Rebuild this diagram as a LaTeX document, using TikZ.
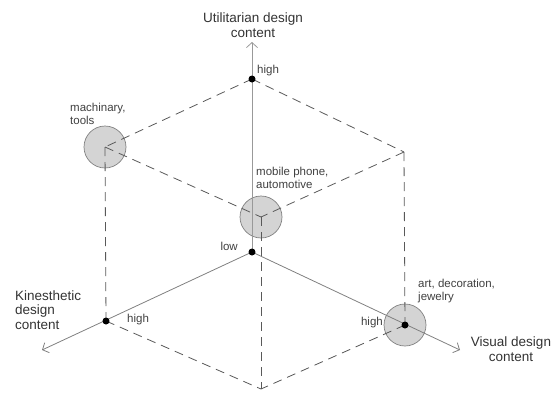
\documentclass[tikz,border=0pt]{standalone}
\usepackage{fontspec}
\setmainfont{Liberation Sans}
\usetikzlibrary{arrows.meta, backgrounds}

\begin{document}
\begin{tikzpicture}[x=1pt, y=-1pt, >={Straight Barb[length=5pt, width=11pt]},
  highdot/.style={circle, fill=black, inner sep=0pt, minimum size=7pt},
  itemcircle/.style={circle, draw=black!50, fill=black!17, line width=0.7pt, minimum size=42pt, inner sep=0pt},
  cubeedge/.style={draw=black!65, line width=0.8pt, dash pattern=on 9pt off 6pt},
  axisline/.style={->, draw=black!50, line width=0.8pt},
  lbl/.style={font=\fontsize{11.5}{12.5}\selectfont, text=black!75, align=left, inner sep=0pt},
  axistitle/.style={font=\fontsize{13.5}{14.5}\selectfont, text=black!80, align=center, inner sep=0pt}]
\useasboundingbox (0,0) rectangle (554,392);
% Dots on the axes
\node[highdot] (low) at (252,252) {};
\node[highdot] (uhigh) at (252,79) {};
\node[highdot] (khigh) at (106,321) {};
\node[highdot] (vhigh) at (405,325) {};
% Other cube corners and axis tips
\coordinate (uv) at (404,152);
\coordinate (kv) at (261,389);
\coordinate (utip) at (252,42);
\coordinate (ktip) at (42,350);
\coordinate (vtip) at (460,350);
\begin{scope}[on background layer]
% Item circles (cube corners)
\node[itemcircle] (machine) at (105,147) {};
\node[itemcircle] (phone) at (261,217) {};
\node[itemcircle] (art) at (vhigh) {};
% Dashed cube edges
\draw[cubeedge] (uhigh.center) -- (machine.center);
\draw[cubeedge] (uhigh.center) -- (uv);
\draw[cubeedge] (machine.center) -- (khigh.center);
\draw[cubeedge] (machine.center) -- (phone.center);
\draw[cubeedge] (uv) -- (phone.center);
\draw[cubeedge] (uv) -- (vhigh.center);
\draw[cubeedge] (phone.center) -- (kv);
\draw[cubeedge] (khigh.center) -- (kv);
\draw[cubeedge] (vhigh.center) -- (kv);
% Axes
\draw[axisline, draw=black!40] (low.center) -- (utip);
\draw[axisline] (low.center) -- (ktip);
\draw[axisline] (low.center) -- (vtip);
\end{scope}
% Labels
\node[axistitle] (ut) at (253,25) {Utilitarian design\\content};
\node[axistitle, align=left, anchor=west] (kt) at (15,310) {Kinesthetic\\design\\content};
\node[axistitle] (vt) at (511,349) {Visual design\\content};
\node[lbl, anchor=west] (uhl) at (257,71) {high};
\node[lbl, anchor=east] (lowl) at (238,246) {low};
\node[lbl, anchor=west] (khl) at (127,320) {high};
\node[lbl, anchor=east] (vhl) at (383,323) {high};
\node[lbl, anchor=west] (machl) at (70,114) {machinary,\\tools};
\node[lbl, anchor=west] (phonel) at (256,178) {mobile phone,\\automotive};
\node[lbl, anchor=west] (artl) at (418,291) {art, decoration,\\jewelry};
\end{tikzpicture}
\end{document}
